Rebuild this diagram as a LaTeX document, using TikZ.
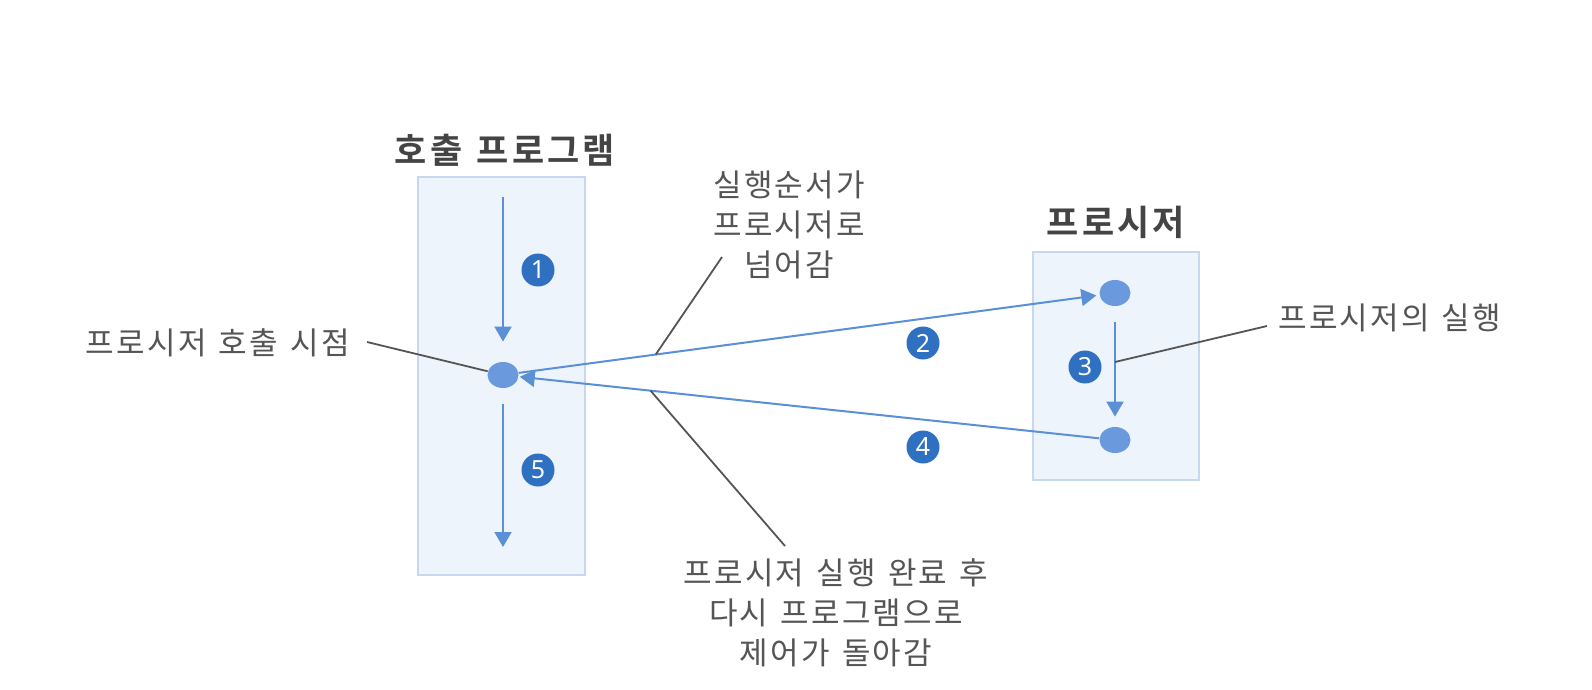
\documentclass[tikz,border=0pt]{standalone}
\usepackage{fontspec}
\newfontfamily\kr[LetterSpace=7,WordSpace=1.35]{Noto Sans CJK KR}
\newfontfamily\krb[LetterSpace=9,WordSpace=1.3]{Noto Sans CJK KR Bold}
\newfontfamily\numfont{Noto Sans}
\usetikzlibrary{arrows.meta,shapes.geometric}
\definecolor{boxfill}{HTML}{EEF4FC}
\definecolor{boxline}{HTML}{C6D7F0}
\definecolor{flow}{HTML}{5B8FD6}
\definecolor{dotc}{HTML}{6A9ADD}
\definecolor{numc}{HTML}{2F70C0}
\definecolor{txt}{HTML}{555555}
\definecolor{ttl}{HTML}{444444}
\tikzset{
  panel/.style={draw=boxline, line width=0.8pt, fill=boxfill, inner sep=0pt},
  dotnode/.style={ellipse, fill=dotc, draw=none, minimum width=15.5pt, minimum height=13pt, inner sep=0pt},
  flowarrow/.style={draw=flow, line width=1pt, -{Triangle[width=8.5pt,length=7.5pt]}},
  numnode/.style={circle, fill=numc, draw=none, minimum size=16.5pt, inner sep=0pt, text=white, font=\numfont\bfseries\fontsize{12.5}{12.5}\selectfont},
  lbl/.style={text=txt, inner sep=0pt, font=\kr\fontsize{15.5}{20}\selectfont, align=center},
  ttlnode/.style={text=ttl, inner sep=0pt, font=\krb\fontsize{17.5}{20}\selectfont},
  leader/.style={draw=txt, line width=0.9pt}
}
\begin{document}
\begin{tikzpicture}[x=0.5pt,y=-0.5pt]
\useasboundingbox[fill=white] (0,0) rectangle (1592,690);
% panels
\node[panel, minimum width=83.5pt, minimum height=199pt] (callbox) at (501.5,376) {};
\node[panel, minimum width=83pt, minimum height=114pt] (procbox) at (1116,366) {};
% titles
\node[ttlnode] (t1) at (505,150) {호출 프로그램};
\node[ttlnode] (t2) at (1116,222) {프로시저};
% dots
\node[dotnode] (calldot) at (503,375) {};
\node[dotnode] (ptop) at (1115,293) {};
\node[dotnode] (pbot) at (1115,440) {};
% free ends
\coordinate (a1s) at (503,197);
\coordinate (a5e) at (503,547);
% flow arrows
\draw[flowarrow, shorten >=10pt] (a1s) -- (calldot.north);
\draw[flowarrow, shorten <=8pt] (calldot.south) -- (a5e);
\draw[flowarrow, shorten <=8pt, shorten >=5pt] (ptop.south) -- (pbot.north);
\draw[flowarrow, shorten >=1.5pt] (calldot) -- (ptop) coordinate[pos=0.236] (j2);
\draw[flowarrow, shorten >=0.5pt] (pbot) -- (calldot) coordinate[pos=0.773] (j4);
% numbers
\node[numnode] (n1) at (538,270) {1};
\node[numnode] (n5) at (538,470) {5};
\node[numnode] (n2) at (923,343) {2};
\node[numnode] (n4) at (923,447) {4};
\node[numnode] (n3) at (1085,367) {3};
% labels
\node[lbl, anchor=east] (l1) at (350,343) {프로시저 호출 시점};
\node[lbl] (l2) at (789,225) {실행순서가\\프로시저로\\넘어감};
\node[lbl] (l3) at (836,613) {프로시저 실행 완료 후\\다시 프로그램으로\\제어가 돌아감};
\node[lbl, anchor=west] (l4) at (1278,318) {프로시저의 실행};
% leader lines
\coordinate (c1) at (367,342);
\coordinate (c2) at (722,257);
\coordinate (c3) at (785,546);
\coordinate (c4) at (1267,326);
\coordinate (j3) at (1115,362);
\draw[leader] (c1) -- (calldot);
\draw[leader] (c2) -- (j2);
\draw[leader] (c3) -- (j4);
\draw[leader] (c4) -- (j3);
\end{tikzpicture}
\end{document}
